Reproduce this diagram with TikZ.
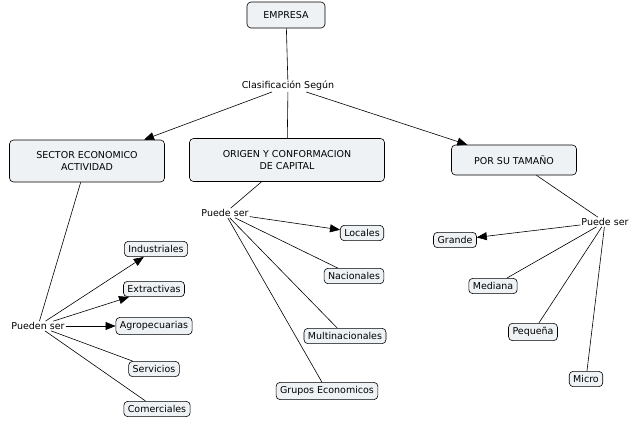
\documentclass[tikz,border=0pt]{standalone}
\usepackage{fontspec}
\setmainfont{DejaVu Sans}
\usetikzlibrary{arrows.meta}
\definecolor{boxfill}{HTML}{EEF2F5}
\tikzset{
  cbox/.style={draw=black, fill=boxfill, rounded corners=4pt, font=\fontsize{9.5}{11.5}\selectfont, align=center, inner sep=4pt, line width=0.6pt},
  lbl/.style={font=\fontsize{9.5}{11.5}\selectfont, fill=white, inner sep=1pt},
  ln/.style={line width=0.6pt},
  ar/.style={line width=0.6pt, -{Triangle[length=10pt,width=8pt]}}
}
\begin{document}
\begin{tikzpicture}[x=1pt,y=-1pt]
\useasboundingbox[fill=white] (0,0) rectangle (640,424);
\node[cbox, minimum width=78pt, minimum height=26pt] (emp) at (286,15) {EMPRESA};
\node[lbl] (cla) at (288,86) {Clasificación Según};
\node[cbox, minimum width=155pt, minimum height=42pt] (sec) at (87,161) {SECTOR ECONOMICO\\ACTIVIDAD};
\node[cbox, minimum width=195pt, minimum height=43pt] (ori) at (287,160) {ORIGEN Y CONFORMACION\\DE CAPITAL};
\node[cbox, minimum width=125pt, minimum height=30pt] (tam) at (514,160) {POR SU TAMAÑO};
\node[lbl] (ps1) at (38,326) {Pueden ser};
\node[cbox] (ind) at (156,249) {Industriales};
\node[cbox] (ext) at (154,289) {Extractivas};
\node[cbox] (agr) at (154,326) {Agropecuarias};
\node[cbox] (ser) at (154,369) {Servicios};
\node[cbox] (com) at (157,409) {Comerciales};
\node[lbl] (ps2) at (225,213) {Puede ser};
\node[cbox] (loc) at (362,233) {Locales};
\node[cbox] (nac) at (354,276) {Nacionales};
\node[cbox] (mul) at (345,336) {Multinacionales};
\node[cbox] (gru) at (327,391) {Grupos Economicos};
\node[lbl] (ps3) at (605,222) {Puede ser};
\node[cbox] (gra) at (455,240) {Grande};
\node[cbox] (med) at (493,286) {Mediana};
\node[cbox] (peq) at (533,332) {Pequeña};
\node[cbox] (mic) at (586,379) {Micro};
\draw[ln] (emp) -- (cla);
\draw[ar] (cla) -- (sec);
\draw[ln] (cla) -- (ori);
\draw[ar] (cla) -- (tam);
\draw[ln] (sec) -- (ps1);
\draw[ar] (ps1) -- (ind);
\draw[ar] (ps1) -- (ext);
\draw[ar] (ps1) -- (agr);
\draw[ln] (ps1) -- (ser);
\draw[ln] (ps1) -- (com);
\draw[ln] (ori) -- (ps2);
\draw[ar] (ps2) -- (loc);
\draw[ln] (ps2) -- (nac);
\draw[ln] (ps2) -- (mul);
\draw[ln] (ps2) -- (gru);
\draw[ln] (tam) -- (ps3);
\draw[ar] (ps3) -- (gra);
\draw[ln] (ps3) -- (med);
\draw[ln] (ps3) -- (peq);
\draw[ln] (ps3) -- (mic);
\end{tikzpicture}
\end{document}
